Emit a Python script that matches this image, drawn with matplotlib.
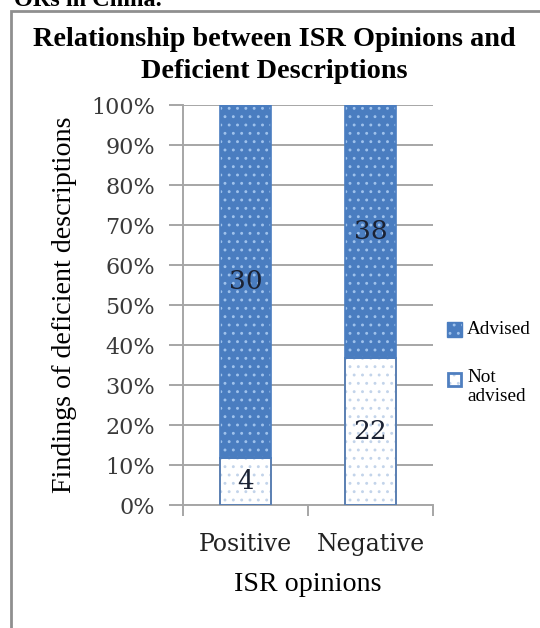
import matplotlib
matplotlib.use("Agg")
import matplotlib.pyplot as plt
from matplotlib.patches import Rectangle
import numpy as np

# ---- data ----
categories = ["Positive", "Negative"]
advised = [30, 38]
not_advised = [4, 22]
series_names = ["Advised", "Not advised"]
y_ticks = [0, 10, 20, 30, 40, 50, 60, 70, 80, 90, 100]

W, H = 540, 628
DPI = 100
fig = plt.figure(figsize=(W / DPI, H / DPI), dpi=DPI)
fig.patch.set_facecolor("white")


def fx(px):
    return px / W


def fy(py):
    return 1 - py / H


plt.rcParams["hatch.linewidth"] = 0.9

# outer frame of the chart area
frame = Rectangle((fx(11), fy(640)), fx(600), (640 - 11) / H, transform=fig.transFigure,
                  fill=False, edgecolor="#8f8f8f", lw=2.0, clip_on=False)
fig.patches.append(frame)

# running text above the chart (only its lower part shows)
fig.text(fx(14), fy(6), "ORs in China.", fontsize=17.5, fontweight="bold",
         family="Liberation Serif", ha="left", va="baseline", color="black")

serif_num = "DejaVu Serif"
serif_txt = "Liberation Serif"

ax = fig.add_axes([fx(183), fy(505), fx(433) - fx(183), (505 - 105) / H])

x = np.arange(len(categories))
adv = np.array(advised, dtype=float)
nadv = np.array(not_advised, dtype=float)
total = adv + nadv
p_nadv = nadv / total * 100
p_adv = adv / total * 100

bw = 0.41
blue = "#4a7dc0"
dot_light = "#9fc2ec"
dot_pale = "#c3d4ea"
edge_blue = "#5a7fb2"

# Not advised segment: white with sparse blue dots
ax.bar(x, p_nadv, bw, color="white", edgecolor=dot_pale, hatch="..", lw=0, zorder=3)
ax.bar(x, p_nadv, bw, fill=False, edgecolor=edge_blue, lw=1.4, zorder=4)
# Advised segment: blue with light dots
ax.bar(x, p_adv, bw, bottom=p_nadv, color=blue, edgecolor=dot_light, hatch="..", lw=0, zorder=3)
ax.bar(x, p_adv, bw, bottom=p_nadv, fill=False, edgecolor=blue, lw=1.2, zorder=4)

# value labels
for i in range(len(categories)):
    ax.text(x[i], p_nadv[i] / 2, f"{not_advised[i]}", ha="center", va="center",
            fontsize=19, family=serif_num, color="#1b2233", zorder=5)
    ax.text(x[i], p_nadv[i] + p_adv[i] / 2, f"{advised[i]}", ha="center", va="center",
            fontsize=19, family=serif_num, color="#1b2233", zorder=5)

ax.set_xlim(-0.5, len(categories) - 0.5)
ax.set_ylim(0, 100)
ax.set_yticks(y_ticks)
ax.set_yticklabels([f"{t}%" for t in y_ticks], family=serif_num, fontsize=16, color="#3a3a3a")
ax.yaxis.grid(True, color="#a6a6a6", lw=1.4, zorder=0)
ax.set_axisbelow(True)

ax.set_xticks(x)
ax.set_xticklabels(categories, family=serif_num, fontsize=17, color="#222222")
ax.set_xticks([-0.5, 0.5, 1.5], minor=True)
ax.tick_params(axis="x", which="major", length=0, pad=20)
ax.tick_params(axis="x", which="minor", length=8, width=1.4, color="#a6a6a6")
ax.tick_params(axis="y", length=10, width=1.4, color="#a6a6a6", pad=10)

for s in ["top", "right"]:
    ax.spines[s].set_visible(False)
for s in ["left", "bottom"]:
    ax.spines[s].set_color("#a6a6a6")
    ax.spines[s].set_linewidth(1.4)

ax.set_xlabel("ISR opinions", family=serif_txt, fontsize=20.2, labelpad=12)
ax.set_ylabel("Findings of deficient descriptions", family=serif_txt, fontsize=20.2, labelpad=10)

fig.text(fx(274), fy(40), "Relationship between ISR Opinions and", ha="center", va="center",
         fontsize=20.3, fontweight="bold", family=serif_txt)
fig.text(fx(274), fy(72), "Deficient Descriptions", ha="center", va="center",
         fontsize=20.3, fontweight="bold", family=serif_txt)

# legend: swatches with the same fills as the bars, labels beside them
def swatch(x0, y0, size, face, hatch_col, edge, lw):
    fig.patches.append(Rectangle((fx(x0), fy(y0 + size)), size / W, size / H,
                                 transform=fig.transFigure, facecolor=face,
                                 edgecolor=hatch_col, hatch="..", lw=0))
    fig.patches.append(Rectangle((fx(x0), fy(y0 + size)), size / W, size / H,
                                 transform=fig.transFigure, fill=False,
                                 edgecolor=edge, lw=lw))


swatch(447, 322, 15, blue, dot_light, blue, 1.0)
fig.text(fx(467), fy(329), series_names[0], family=serif_txt, fontsize=13.8,
         ha="left", va="center")
swatch(448, 373, 13, "white", dot_pale, "#4f7fc0", 2.0)
fig.text(fx(467), fy(387), series_names[1].replace(" ", "\n"), family=serif_txt, fontsize=13.8,
         ha="left", va="center", linespacing=1.15)

fig.savefig("out.png", dpi=DPI)
